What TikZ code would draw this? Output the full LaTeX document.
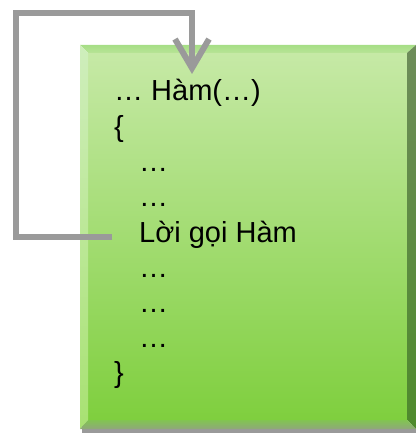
\documentclass[tikz,border=0pt]{standalone}
\usepackage{fontspec}
\setmainfont{Liberation Sans}
\usetikzlibrary{arrows.meta}
\definecolor{boxtop}{HTML}{C6E9A6}
\definecolor{boxbot}{HTML}{7FCF3E}
\definecolor{bevtopA}{HTML}{A6DE86}
\definecolor{bevtopB}{HTML}{B8E496}
\definecolor{bevleftA}{HTML}{CFEEBC}
\definecolor{bevleftB}{HTML}{A8E172}
\definecolor{bevrightA}{HTML}{6E8C5A}
\definecolor{bevrightB}{HTML}{4E8A2C}
\definecolor{bevbotA}{HTML}{82C452}
\definecolor{bevbotB}{HTML}{8FA87A}
\definecolor{callgray}{HTML}{9A9A9A}
\tikzset{
    codeline/.style={anchor=base west,inner sep=0pt,font=\fontsize{29}{34}\selectfont},
    callline/.style={draw=callgray,line width=6pt,-{Straight Barb[length=29pt,width=34pt]}}
}
\begin{document}
\begin{tikzpicture}[x=1pt,y=-1pt]
                \useasboundingbox (0,0) rectangle (416,433);
                % shadow and bevelled box
                \fill[callgray] (82,425) rectangle (416,433);
                \shade[top color=boxtop,bottom color=boxbot] (88,53) rectangle (407,420);
                \shade[top color=bevtopA,bottom color=bevtopB] (80,45) -- (416,45) -- (407,53) -- (88,53) -- cycle;
                \shade[top color=bevleftA,bottom color=bevleftB] (80,45) -- (88,53) -- (88,420) -- (80,429) -- cycle;
                \shade[top color=bevrightA,bottom color=bevrightB] (416,45) -- (416,429) -- (407,420) -- (407,53) -- cycle;
                \shade[top color=bevbotA,bottom color=bevbotB] (80,429) -- (88,420) -- (407,420) -- (416,429) -- cycle;
                % the function body
                \node[codeline] (head) at (114,101) {… Hàm(…)};
                \node[codeline] (open) at (114,136) {\{};
                \foreach \y/\n in {171/1,206/2,277/3,312/4,347/5}{
                    \node[codeline] (dots\n) at (139,\y) {…};
                }
                \node[codeline] (call) at (139,242) {Lời gọi Hàm};
                \node[codeline] (close) at (114,382) {\}};
                % recursive call back to the top
                \coordinate (from) at (112,237);
                \coordinate (entry) at (192,74);
                \draw[callline] (from) -| (16,13) -| (entry);
            \end{tikzpicture}
\end{document}
